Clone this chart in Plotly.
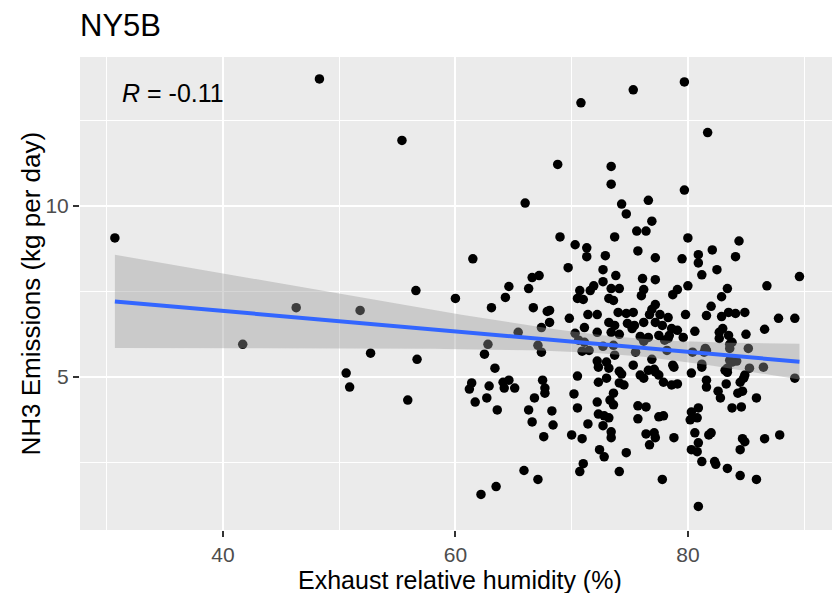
import numpy as np
import plotly.graph_objects as go

# Exhaust relative humidity (%) and NH3 emissions (kg per day)
humidity = [
    30.7, 41.7, 46.3, 48.3, 50.6, 50.9, 51.8, 52.7, 55.4, 55.9, 56.6, 56.7, 60.0,
    70.8, 68.8, 66.0, 75.3, 79.7, 81.7, 73.4, 73.4, 79.7, 76.6, 74.3, 74.7,
    61.5, 69.0, 70.3, 69.7, 66.6, 67.2, 64.6, 66.3, 64.3, 63.1, 66.7, 70.7, 70.5,
    67.9, 68.1, 69.8, 68.1, 67.4, 65.4, 62.8, 70.3, 67.1, 67.4, 62.5, 70.6, 70.9, 63.4,
    76.9, 75.6, 76.4, 73.7, 80.0, 71.3, 71.3, 75.7, 72.9, 77.2, 79.5, 80.9, 80.9, 82.1,
    81.2, 72.7, 73.8, 72.7, 76.1, 77.2, 71.9, 71.6, 71.0, 73.4, 74.1, 73.2, 73.6, 76.2,
    76.0, 79.1, 78.7, 80.0, 82.0, 77.2, 76.9, 71.4, 72.2, 74.0, 74.7, 75.3, 76.7, 77.6,
    78.3, 79.8, 81.6, 71.1, 73.2, 73.7, 74.8, 75.4, 76.2, 77.2, 77.8, 78.6, 79.1, 80.6,
    72.2, 73.4, 74.1, 75.2, 75.9, 76.6, 77.5, 78.4, 71.1, 71.5, 72.7, 73.6, 73.7, 72.2,
    73.0, 75.5, 76.2, 76.9, 78.0, 78.2, 75.3, 73.2, 80.4, 81.4,
    84.4, 84.1, 82.5, 89.6, 86.8, 83.4, 82.9, 82.9, 83.5, 84.1, 84.9, 87.8, 89.2, 86.6,
    83.0, 82.7, 82.7, 83.5, 83.8, 85.0, 85.2, 83.6, 81.6, 83.6, 84.2, 83.4, 85.3, 86.5,
    70.5, 61.4, 61.2, 62.9, 64.1, 64.6, 64.2, 65.1, 67.5, 67.7, 67.7, 61.7, 62.7, 66.8,
    70.2, 63.6, 66.3, 68.3, 66.6, 68.4, 70.5, 67.6, 70.0, 70.9, 65.9, 67.1, 63.5, 62.2,
    71.0, 70.7,
    72.3, 78.8, 81.2, 74.1, 74.3, 76.6, 77.1, 75.9, 76.2, 77.5, 77.9, 78.6, 79.1, 80.3,
    81.6, 81.6, 73.0, 72.3, 74.1, 74.5, 73.6, 73.3, 73.6, 72.2, 72.3, 72.8, 73.2, 72.7,
    71.4, 73.4, 73.4, 72.4, 72.8, 74.7, 74.1, 75.7, 76.4, 75.7, 77.5, 77.9, 76.4, 77.1,
    77.2, 76.7, 78.8, 77.8, 80.3, 80.9, 80.8, 80.2, 80.6, 81.8, 80.9, 80.3, 80.8, 81.2,
    80.9,
    83.2, 83.4, 84.8, 84.5, 89.2, 83.3, 82.6, 82.8, 84.3, 84.7, 85.9, 83.8, 84.6, 82.0,
    84.7, 84.9, 86.6, 87.9, 84.5, 82.3, 82.4, 83.4, 84.5, 85.9,
    78.3, 79.6, 78.7, 81.2, 81.5, 83.6, 83.8, 77.2, 84.9,
]
emissions = [
    9.07, 5.96, 7.03, 13.72, 5.12, 4.71, 6.95, 5.70, 11.92, 4.33, 7.53, 5.52, 7.30,
    13.02, 11.22, 10.09, 13.40, 13.63, 12.15, 11.16, 10.64, 10.47, 10.17, 10.06, 9.77,
    8.46, 9.10, 8.87, 8.20, 7.91, 7.97, 7.65, 7.59, 7.33, 7.03, 7.03, 7.53, 7.30,
    6.92, 6.95, 6.72, 6.60, 6.45, 6.31, 5.96, 6.28, 5.93, 5.73, 5.67, 6.08, 5.76, 5.26,
    9.56, 9.27, 9.27, 9.10, 9.07, 8.78, 8.52, 8.69, 8.55, 8.49, 8.46, 8.58, 8.34, 8.72,
    7.99, 8.14, 7.97, 7.79, 7.88, 7.85, 7.67, 7.53, 7.27, 7.59, 7.59, 7.30, 7.24, 7.56,
    7.38, 7.56, 7.41, 7.67, 7.07, 7.12, 6.98, 6.83, 6.83, 6.89, 6.86, 6.89, 6.83, 6.83,
    6.74, 6.83, 6.80, 6.45, 6.60, 6.51, 6.57, 6.51, 6.60, 6.60, 6.51, 6.42, 6.37, 6.34,
    6.31, 6.31, 6.25, 6.42, 6.19, 6.16, 6.22, 6.22, 6.02, 5.78, 5.90, 5.93, 5.64, 5.47,
    5.44, 5.73, 6.05, 5.52, 6.08, 5.78, 5.35, 5.26, 5.73, 5.73,
    8.98, 8.52, 8.14, 7.94, 7.67, 7.59, 7.35, 6.77, 6.89, 6.86, 6.89, 6.72, 6.72, 6.40,
    6.42, 6.31, 6.13, 6.22, 6.02, 6.25, 5.84, 5.84, 5.78, 5.49, 5.47, 5.26, 5.26, 5.29,
    5.03, 4.83, 4.65, 4.74, 4.85, 4.91, 4.68, 4.68, 4.91, 4.68, 4.53, 4.27, 4.39, 4.39,
    4.51, 4.04, 4.04, 4.01, 3.69, 3.60, 4.10, 3.26, 3.31, 3.20, 2.27, 2.01, 1.80, 1.57,
    2.47, 2.24,
    5.29, 5.29, 5.29, 5.17, 5.09, 5.20, 5.23, 5.06, 4.97, 5.06, 4.85, 4.77, 4.80, 5.12,
    4.91, 4.71, 4.97, 4.85, 4.83, 4.77, 4.53, 4.33, 4.19, 4.27, 3.92, 3.87, 3.81, 3.58,
    3.63, 3.40, 3.23, 2.88, 2.67, 2.79, 2.24, 4.16, 4.13, 3.78, 3.84, 3.87, 3.34, 3.37,
    3.23, 3.02, 3.23, 2.01, 3.98, 4.10, 3.81, 3.75, 3.37, 3.31, 3.08, 2.88, 2.82, 2.53,
    1.22,
    5.20, 5.14, 4.97, 4.85, 4.97, 4.80, 4.59, 4.39, 4.53, 4.59, 4.39, 4.10, 4.13, 3.37,
    3.20, 3.11, 3.20, 3.31, 2.88, 2.53, 2.45, 2.33, 2.12, 2.01,
    6.13, 6.16, 5.35, 5.38, 5.84, 5.96, 5.44, 5.15, 5.06,
]

title_text = "NY5B"
x_title = "Exhaust relative humidity (%)"
y_title = "NH3 Emissions (kg per day)"
r_label = "<i>R</i> = -0.11"
x_ticks = [40, 60, 80]
y_ticks = [5, 10]

x = np.array(humidity)
y = np.array(emissions)
n = len(x)
slope, intercept = np.polyfit(x, y, 1)
xs = np.linspace(x.min(), x.max(), 80)
ys = intercept + slope * xs
resid = y - (intercept + slope * x)
s = np.sqrt(np.sum(resid ** 2) / (n - 2))
sxx = np.sum((x - x.mean()) ** 2)
se = s * np.sqrt(1.0 / n + (xs - x.mean()) ** 2 / sxx)
t = 1.968
upper = ys + t * se
lower = ys - t * se

fig = go.Figure()
fig.add_trace(go.Scatter(
    x=x, y=y, mode="markers",
    marker=dict(color="black", size=9.5, line=dict(width=0)),
    showlegend=False, hoverinfo="skip"))
fig.add_trace(go.Scatter(
    x=np.concatenate([xs, xs[::-1]]), y=np.concatenate([upper, lower[::-1]]),
    fill="toself", fillcolor="rgba(153,153,153,0.4)", line=dict(width=0),
    mode="lines", showlegend=False, hoverinfo="skip"))
fig.add_trace(go.Scatter(
    x=xs, y=ys, mode="lines", line=dict(color="#3366FF", width=4),
    showlegend=False, hoverinfo="skip"))

fig.add_annotation(x=31.1, y=13.3, xref="x", yref="y", text=r_label,
                   showarrow=False, xanchor="left", yanchor="middle",
                   font=dict(size=25, color="black"))

W, H = 834, 593
L, R, T, B = 80, 2, 57, 63
fig.add_annotation(x=(460 - L) / (W - L - R), y=-(580 - (H - B)) / (H - T - B),
                   xref="paper", yref="paper", text=x_title, showarrow=False,
                   xanchor="center", yanchor="middle",
                   font=dict(size=25, color="black"))
fig.add_annotation(x=-(L - 30) / (W - L - R), y=0.5, xref="paper", yref="paper",
                   text=y_title, showarrow=False, textangle=-90,
                   xanchor="center", yanchor="middle",
                   font=dict(size=26, color="black"))

font_family = "Liberation Sans, Arial, sans-serif"
fig.update_layout(
    width=W, height=H,
    margin=dict(l=L, r=R, t=T, b=B, autoexpand=False),
    paper_bgcolor="white", plot_bgcolor="#EBEBEB",
    font=dict(family=font_family, color="black"),
    title=dict(text=title_text, x=L / W, xanchor="left", xref="container",
               y=1 - 25 / H, yanchor="middle", yref="container",
               font=dict(size=31, color="black")),
    showlegend=False,
)
fig.update_xaxes(
    range=[27.7, 92.4], tickvals=x_ticks, ticks="outside", ticklen=6, tickwidth=2,
    tickcolor="#333333", tickfont=dict(size=21, color="#4D4D4D"), automargin=False,
    showgrid=True, gridcolor="white", gridwidth=2.4, zeroline=False, showline=False,
    minor=dict(tickvals=[30, 50, 70, 90], showgrid=True, gridcolor="white",
               gridwidth=1.2, ticks=""),
)
fig.update_yaxes(
    range=[0.53, 14.36], tickvals=y_ticks, ticks="outside", ticklen=6, tickwidth=2,
    tickcolor="#333333", tickfont=dict(size=21, color="#4D4D4D"), automargin=False,
    showgrid=True, gridcolor="white", gridwidth=2.4, zeroline=False, showline=False,
    minor=dict(tickvals=[2.5, 7.5, 12.5], showgrid=True, gridcolor="white",
               gridwidth=1.2, ticks=""),
)
fig.write_html("out.html", config={"displayModeBar": False},
               post_script="document.body.style.margin='0';")
